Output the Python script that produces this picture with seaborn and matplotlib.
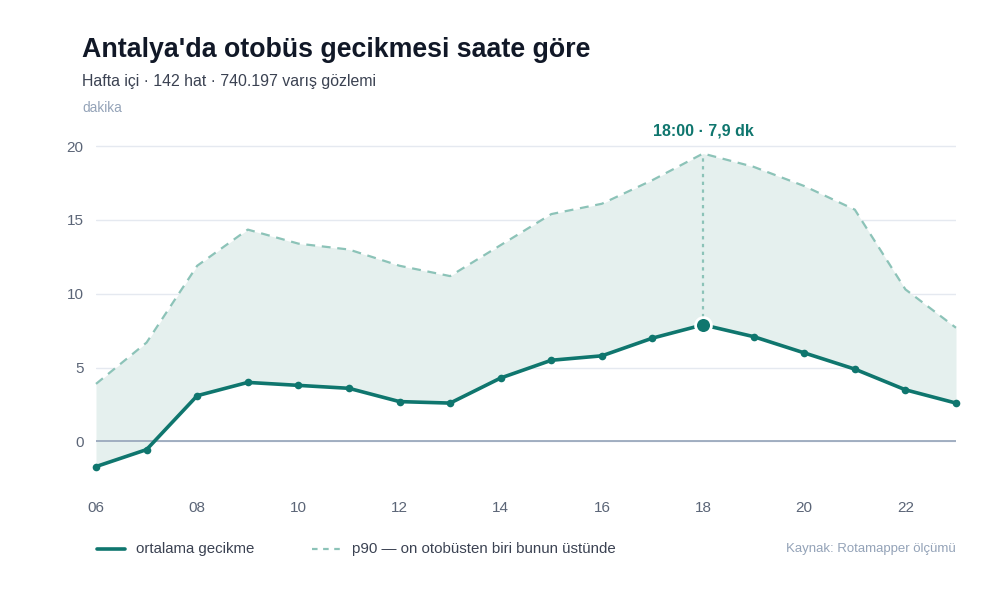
import numpy as np
import pandas as pd
import seaborn as sns
import matplotlib
matplotlib.use("Agg")
import matplotlib.pyplot as plt
from matplotlib.lines import Line2D

# ---- data ----
hours = [6, 7, 8, 9, 10, 11, 12, 13, 14, 15, 16, 17, 18, 19, 20, 21, 22, 23]
mean_delay = [-1.7, -0.55, 3.1, 4.0, 3.8, 3.6, 2.7, 2.6, 4.3, 5.5, 5.8, 7.0, 7.9, 7.1, 6.0, 4.9, 3.5, 2.6]
p90_delay = [3.9, 6.7, 11.9, 14.35, 13.4, 13.0, 11.9, 11.2, 13.3, 15.4, 16.1, 17.7, 19.5, 18.6, 17.3, 15.7, 10.3, 7.7]
x_ticks = [6, 8, 10, 12, 14, 16, 18, 20, 22]
x_tick_labels = ["06", "08", "10", "12", "14", "16", "18", "20", "22"]
y_ticks = [0, 5, 10, 15, 20]
peak_hour = 18
peak_label = "18:00 · 7,9 dk"

title = "Antalya'da otobüs gecikmesi saate göre"
subtitle = "Hafta içi · 142 hat · 740.197 varış gözlemi"
unit_label = "dakika"
legend_mean = "ortalama gecikme"
legend_p90 = "p90 — on otobüsten biri bunun üstünde"
source = "Kaynak: Rotamapper ölçümü"

df = pd.DataFrame({"hour": hours, "mean": mean_delay, "p90": p90_delay})

# ---- style ----
sns.set_theme(style="white")
plt.rcParams["font.family"] = ["Liberation Sans", "DejaVu Sans"]

TEAL = "#0f766e"
P90C = "#8cc3b8"
FILL = "#e5f0ee"
GRID = "#e5e9f0"
ZERO = "#94a3b8"
TICK = "#5b6577"
MUTED = "#94a3b8"
DARK = "#111827"

fig = plt.figure(figsize=(10, 6), dpi=100)
ax = fig.add_axes([0.096, 0.183, 0.860, 0.582])

ax.fill_between(df["hour"], df["mean"], df["p90"], color=FILL, lw=0, zorder=1)

sns.lineplot(data=df, x="hour", y="p90", ax=ax, color=P90C, lw=1.6,
             linestyle=(0, (4, 3)), zorder=3)
sns.lineplot(data=df, x="hour", y="mean", ax=ax, color=TEAL, lw=2.6,
             marker="o", markersize=5.5, markeredgewidth=0, zorder=4)
for ln in ax.get_lines():
    ln.set_clip_on(False)

pk = df[df["hour"] == peak_hour].iloc[0]
ax.plot([pk["hour"], pk["hour"]], [pk["mean"], pk["p90"]], color=P90C,
        lw=1.6, linestyle=(0, (1.5, 2)), zorder=2)
ax.scatter([pk["hour"]], [pk["mean"]], s=130, color=TEAL, edgecolor="white",
           linewidth=2, zorder=6)
ax.text(pk["hour"], 20.55, peak_label, ha="center", va="bottom", color=TEAL,
        fontsize=11.5, fontweight="bold", clip_on=False)

ax.set_xlim(6, 23)
ax.set_ylim(-3.3, 20.35)
ax.set_xticks(x_ticks)
ax.set_xticklabels(x_tick_labels)
ax.set_yticks(y_ticks)
ax.set_xlabel("")
ax.set_ylabel("")
for s in ax.spines.values():
    s.set_visible(False)
ax.grid(axis="y", color=GRID, lw=1)
ax.grid(axis="x", visible=False)
ax.set_axisbelow(True)
ax.axhline(0, color=ZERO, lw=1.2, zorder=2)
ax.tick_params(axis="both", length=0, labelsize=11, colors=TICK)
ax.tick_params(axis="y", pad=9)
ax.tick_params(axis="x", pad=8)

# ---- titles ----
fig.text(0.082, 0.905, title, fontsize=19.3, fontweight="bold", color=DARK,
         va="baseline", ha="left")
fig.text(0.082, 0.857, subtitle, fontsize=11.4, color="#3b4252", va="baseline")
fig.text(0.082, 0.813, unit_label, fontsize=9.8, color=MUTED, va="baseline")

# ---- legend ----
ly = 1 - 549 / 600
fig.add_artist(Line2D([0.097, 0.125], [ly, ly], color=TEAL, lw=2.6,
                      transform=fig.transFigure))
fig.text(0.136, ly, legend_mean, fontsize=10.8, color="#3b4252", va="center")
fig.add_artist(Line2D([0.312, 0.340], [ly, ly], color=P90C, lw=1.6,
                      linestyle=(0, (2.5, 2.5)), transform=fig.transFigure))
fig.text(0.352, ly, legend_p90, fontsize=10.8, color="#3b4252", va="center")
fig.text(0.956, ly, source, fontsize=9.5, color=MUTED, va="center", ha="right")

fig.savefig("out.png", dpi=100, facecolor="white")
